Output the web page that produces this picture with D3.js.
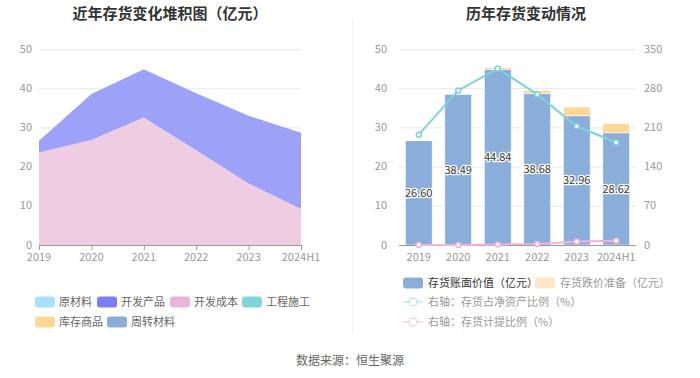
<!DOCTYPE html>
<html><head><meta charset="utf-8">
<script src="https://cdn.jsdelivr.net/npm/d3@7"></script>
<style>body{margin:0;background:#fff;}svg{display:block;font-family:"Noto Sans CJK SC","Noto Sans",sans-serif;}</style>
</head><body>
<script>
const years = ["2019","2020","2021","2022","2023","2024H1"];
// left stacked area (亿元)
const rawMaterial = [0,0,0,0,0,0];
const devCost = [23.6,26.8,32.5,24.2,15.7,9.2];
const devProduct = [3.0,11.69,12.34,14.48,17.26,19.42];
const engConstruction = [0,0,0,0,0,0];
const stockGoods = [0,0,0,0,0,0];
const turnoverMat = [0,0,0,0,0,0];
const leftTicks = [0,10,20,30,40,50];
// right chart
const bookValue = [26.60,38.49,44.84,38.68,32.96,28.62];
const reserve = [0.05,0.05,0.4,0.69,2.24,2.33];
const ratioNetAsset = [197,276,315,269,212,183];
const ratioProvision = [0.2,0.2,0.9,1.8,6.4,7.5];
const rightTicksL = [0,10,20,30,40,50];
const rightTicksR = [0,70,140,210,280,350];

const W=700,H=378;
const svg=d3.select("body").append("svg").attr("width",W).attr("height",H);

// titles
svg.append("text").attr("x",170).attr("y",19).attr("text-anchor","middle").attr("font-size",15).attr("font-weight","bold").attr("fill","#333").text("近年存货变化堆积图（亿元）");
svg.append("text").attr("x",526).attr("y",19).attr("text-anchor","middle").attr("font-size",15).attr("font-weight","bold").attr("fill","#333").text("历年存货变动情况");

// separator
svg.append("line").attr("x1",352.5).attr("x2",352.5).attr("y1",20).attr("y2",333).attr("stroke","#f0f0f0");

// ---------- Left chart ----------
const x1=d3.scalePoint().domain(years).range([39,301]);
const y1=d3.scaleLinear().domain([0,50]).range([245,49]);
const gL=svg.append("g");
gL.selectAll("line.grid").data(leftTicks.slice(1)).join("line")
  .attr("x1",39).attr("x2",301).attr("y1",d=>y1(d)+0.5).attr("y2",d=>y1(d)+0.5).attr("stroke","#e6e9f4");
gL.selectAll("text.yl").data(leftTicks).join("text")
  .attr("x",32).attr("y",d=>y1(d)+3.5).attr("text-anchor","end").attr("font-size",11).attr("fill","#999").text(d=>d);

const leftSeries=[
  {name:"原材料",vals:rawMaterial,color:"#a6e1f9",fill:"#c2ebfb"},
  {name:"开发成本",vals:devCost,color:"#e8b6d9",fill:"#eecde3"},
  {name:"开发产品",vals:devProduct,color:"#7b7ef5",fill:"#9ea1f8"},
  {name:"工程施工",vals:engConstruction,color:"#80d6d6",fill:"#a8e4e4"},
  {name:"库存商品",vals:stockGoods,color:"#fdd895",fill:"#fde4b5"},
  {name:"周转材料",vals:turnoverMat,color:"#8badda",fill:"#aac4e6"}
];
const tableL=years.map((y,i)=>{const o={year:y};leftSeries.forEach(s=>o[s.name]=s.vals[i]);return o;});
const stackL=d3.stack().keys(leftSeries.map(s=>s.name))(tableL);
const areaL=d3.area().x(d=>x1(d.data.year)).y0(d=>y1(d[0])).y1(d=>y1(d[1]));
stackL.forEach((layer,k)=>{
  gL.append("path").attr("d",areaL(layer)).attr("fill",leftSeries[k].fill);
});
// x axis
gL.append("line").attr("x1",39).attr("x2",301).attr("y1",245.5).attr("y2",245.5).attr("stroke","#999");
gL.selectAll("line.tk").data(years).join("line").attr("x1",d=>x1(d)+0.5).attr("x2",d=>x1(d)+0.5).attr("y1",245).attr("y2",250).attr("stroke","#999");
gL.selectAll("text.xl").data(years).join("text").attr("x",d=>x1(d)).attr("y",261).attr("text-anchor","middle").attr("font-size",11).attr("fill","#999").text(d=>d);

// left legend
const legL=[
  {name:"原材料",color:"#a6e1f9",x:35,y:302},
  {name:"开发产品",color:"#7b7ef5",x:97,y:302},
  {name:"开发成本",color:"#e8b6d9",x:170,y:302},
  {name:"工程施工",color:"#80d6d6",x:242,y:302},
  {name:"库存商品",color:"#fdd895",x:35,y:322},
  {name:"周转材料",color:"#8badda",x:107,y:322}
];
legL.forEach(l=>{
  svg.append("rect").attr("x",l.x).attr("y",l.y-5.5).attr("width",20).attr("height",11).attr("rx",3).attr("fill",l.color);
  svg.append("text").attr("x",l.x+24).attr("y",l.y+4).attr("font-size",11).attr("fill","#666").text(l.name);
});

// ---------- Right chart ----------
const x2=d3.scaleBand().domain(years).range([399,636]).paddingInner(0.32).paddingOuter(0.16);
const y2=d3.scaleLinear().domain([0,50]).range([245,49]);
const y2r=d3.scaleLinear().domain([0,350]).range([245,49]);
const gR=svg.append("g");
gR.selectAll("line.grid").data(rightTicksL.slice(1)).join("line")
  .attr("x1",399).attr("x2",636).attr("y1",d=>y2(d)+0.5).attr("y2",d=>y2(d)+0.5).attr("stroke","#e6e9f4");
gR.selectAll("text.yl").data(rightTicksL).join("text")
  .attr("x",387).attr("y",d=>y2(d)+3.5).attr("text-anchor","end").attr("font-size",11).attr("fill","#999").text(d=>d);
gR.selectAll("text.yr").data(rightTicksR).join("text")
  .attr("x",644).attr("y",d=>y2r(d)+3.5).attr("text-anchor","start").attr("font-size",11).attr("fill","#999").text(d=>d);

const tableR=years.map((y,i)=>({year:y,book:bookValue[i],res:reserve[i]}));
const stackR=d3.stack().keys(["book","res"])(tableR);
const barColors=["#8badda","#fdd895"];
stackR.forEach((layer,k)=>{
  gR.selectAll("rect.b"+k).data(layer).join("rect")
    .attr("x",d=>x2(d.data.year)).attr("width",x2.bandwidth())
    .attr("y",d=>y2(d[1])).attr("height",d=>Math.max(0,y2(d[0])-y2(d[1])))
    .attr("fill",barColors[k]).attr("stroke","#fff").attr("stroke-width",0.6);
});
// axis
gR.append("line").attr("x1",399).attr("x2",636).attr("y1",245.5).attr("y2",245.5).attr("stroke","#999");
gR.selectAll("text.xl").data(years).join("text").attr("x",d=>x2(d)+x2.bandwidth()/2).attr("y",261).attr("text-anchor","middle").attr("font-size",11).attr("fill","#999").text(d=>d);

// lines
const lineGen=d3.line().x((d,i)=>x2(years[i])+x2.bandwidth()/2).y(d=>y2r(d));
[[ratioProvision,"#f0b3dc"],[ratioNetAsset,"#7fd3d8"]].forEach(([vals,c])=>{
  gR.append("path").attr("d",lineGen(vals)).attr("fill","none").attr("stroke",c).attr("stroke-width",2);
  gR.selectAll(null).data(vals).join("circle").attr("cx",(d,i)=>x2(years[i])+x2.bandwidth()/2).attr("cy",d=>y2r(d)).attr("r",2.5).attr("fill","#fff").attr("stroke",c).attr("stroke-width",1.5);
});

// bar labels
gR.selectAll("text.bl").data(tableR).join("text")
  .attr("x",d=>x2(d.year)+x2.bandwidth()/2).attr("y",d=>y2(d.book/2)+4)
  .attr("text-anchor","middle").attr("font-size",11).attr("fill","#333")
  .attr("stroke","#fff").attr("stroke-width",2.5).attr("paint-order","stroke")
  .text(d=>d.book.toFixed(2));

// right legend
svg.append("rect").attr("x",403).attr("y",277.5).attr("width",20).attr("height",11).attr("rx",3).attr("fill","#8badda");
svg.append("text").attr("x",428).attr("y",287).attr("font-size",11).attr("fill","#333").text("存货账面价值（亿元）");
svg.append("rect").attr("x",535).attr("y",277.5).attr("width",20).attr("height",11).attr("rx",3).attr("fill","#fde7c5");
svg.append("text").attr("x",560).attr("y",287).attr("font-size",11).attr("fill","#999").text("存货跌价准备（亿元）");
[[302,"#bfe9ec","右轴：存货占净资产比例（%）"],[322,"#f5d4ea","右轴：存货计提比例（%）"]].forEach(([yy,c,t])=>{
  svg.append("line").attr("x1",403).attr("x2",423).attr("y1",yy).attr("y2",yy).attr("stroke",c).attr("stroke-width",1.5);
  svg.append("circle").attr("cx",413).attr("cy",yy).attr("r",4).attr("fill","#fff").attr("stroke",c).attr("stroke-width",1.5);
  svg.append("text").attr("x",428).attr("y",yy+4).attr("font-size",11).attr("fill","#999").text(t);
});

// source
svg.append("text").attr("x",350).attr("y",365).attr("text-anchor","middle").attr("font-size",12).attr("fill","#666").text("数据来源：恒生聚源");
</script>
</body></html>
